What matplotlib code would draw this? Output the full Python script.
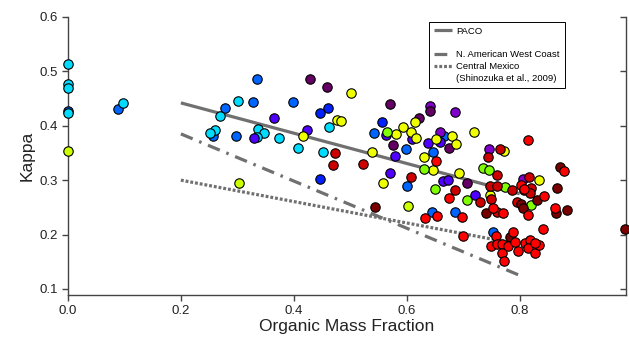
import matplotlib

matplotlib.use("Agg")
import matplotlib.pyplot as plt
from matplotlib.lines import Line2D

plt.rcParams["font.family"] = ["Liberation Sans", "DejaVu Sans"]

# colour codes used by the points
COLORS = {
    "C": "#00dcff", "B": "#0064ff", "DB": "#0020ff", "V": "#5000ff",
    "P": "#8200cc", "DP": "#640064", "Y": "#eeff00", "YG": "#ccff00",
    "L": "#80ff00", "R": "#ff0000", "DR": "#cc0000", "M": "#780000",
}

# organic mass fraction / kappa, grouped by point colour
blue_x = [0.0, 0.089, 0.334, 0.328, 0.398, 0.278, 0.257, 0.297, 0.542,
          0.599, 0.647, 0.666, 0.601, 0.645, 0.685, 0.753]
blue_y = [0.427, 0.431, 0.486, 0.443, 0.443, 0.433, 0.381, 0.382, 0.387,
          0.357, 0.352, 0.381, 0.290, 0.242, 0.241, 0.204]
cyan_x = [0.0, 0.0, 0.0, 0.0, 0.097, 0.301, 0.270, 0.337, 0.347, 0.334,
          0.260, 0.251, 0.374, 0.408, 0.451, 0.463]
cyan_y = [0.514, 0.477, 0.470, 0.423, 0.442, 0.446, 0.418, 0.394, 0.387,
          0.379, 0.392, 0.387, 0.378, 0.359, 0.351, 0.397]
dblue_x = [0.461, 0.446, 0.446, 0.556]
dblue_y = [0.432, 0.423, 0.303, 0.406]
violet_x = [0.365, 0.424, 0.329, 0.564, 0.610, 0.658, 0.637, 0.579, 0.570,
            0.664, 0.673, 0.720]
violet_y = [0.415, 0.392, 0.378, 0.383, 0.375, 0.371, 0.368, 0.344, 0.314,
            0.299, 0.300, 0.273]
purple_x = [0.642, 0.685, 0.658, 0.746, 0.806]
purple_y = [0.436, 0.426, 0.389, 0.357, 0.303]
dpurple_x = [0.428, 0.459, 0.570, 0.642, 0.622, 0.575, 0.675, 0.706]
dpurple_y = [0.486, 0.472, 0.440, 0.428, 0.414, 0.365, 0.359, 0.294]
yellow_x = [0.501, 0.477, 0.484, 0.416, 0.581, 0.594, 0.614, 0.608, 0.616,
            0.651, 0.681, 0.688, 0.539, 0.630, 0.647, 0.692, 0.558, 0.719,
            0.773, 0.747, 0.835]
yellow_y = [0.461, 0.411, 0.409, 0.381, 0.385, 0.398, 0.406, 0.389, 0.378,
            0.375, 0.381, 0.367, 0.352, 0.342, 0.319, 0.314, 0.294, 0.389,
            0.354, 0.273, 0.300]
ygreen_x = [0.0, 0.303, 0.603]
ygreen_y = [0.354, 0.295, 0.253]
lime_x = [0.565, 0.631, 0.650, 0.707, 0.735, 0.746, 0.774, 0.820]
lime_y = [0.389, 0.320, 0.284, 0.264, 0.322, 0.319, 0.287, 0.254]
dred_x = [0.473, 0.470, 0.523, 0.607, 0.685, 0.744, 0.766, 0.759, 0.816,
          0.820, 0.787, 0.748, 0.760, 0.729, 0.759, 0.808, 0.819, 0.795,
          0.750]
dred_y = [0.349, 0.327, 0.329, 0.306, 0.282, 0.343, 0.357, 0.310, 0.306,
          0.286, 0.282, 0.289, 0.289, 0.259, 0.242, 0.282, 0.276, 0.260,
          0.265]
red_x = [0.651, 0.675, 0.814, 0.878, 0.843, 0.802, 0.807, 0.815, 0.752,
         0.770, 0.863, 0.841, 0.633, 0.654, 0.697, 0.700, 0.758, 0.789,
         0.750, 0.759, 0.769, 0.768, 0.772, 0.779, 0.791, 0.797, 0.809,
         0.818, 0.815, 0.827, 0.835, 0.827]
red_y = [0.335, 0.268, 0.374, 0.316, 0.271, 0.291, 0.283, 0.236, 0.249,
         0.240, 0.249, 0.210, 0.231, 0.235, 0.232, 0.198, 0.198, 0.204,
         0.179, 0.183, 0.183, 0.167, 0.152, 0.179, 0.187, 0.169, 0.185,
         0.190, 0.175, 0.167, 0.181, 0.184]
maroon_x = [0.543, 0.740, 0.802, 0.806, 0.830, 0.866, 0.865, 0.883, 0.871,
            0.986, 0.782]
maroon_y = [0.250, 0.239, 0.257, 0.248, 0.264, 0.285, 0.239, 0.245, 0.325,
            0.210, 0.196]

groups = [
    (blue_x, blue_y, "B"), (cyan_x, cyan_y, "C"), (dblue_x, dblue_y, "DB"),
    (violet_x, violet_y, "V"), (purple_x, purple_y, "P"),
    (dpurple_x, dpurple_y, "DP"), (yellow_x, yellow_y, "Y"),
    (ygreen_x, ygreen_y, "YG"), (lime_x, lime_y, "L"),
    (dred_x, dred_y, "DR"), (maroon_x, maroon_y, "M"), (red_x, red_y, "R"),
]

# fit lines: x range and kappa at each end
fit_x = [0.2, 0.8]
paco_y = [0.442, 0.275]
westcoast_y = [0.385, 0.125]
mexico_y = [0.300, 0.182]

GRAY = "#707070"
AX = "#444444"

fig = plt.figure(figsize=(6.29, 3.45), dpi=100)
ax = fig.add_axes([0.108, 0.145, 0.887, 0.806])

ax.plot(fit_x, paco_y, color=GRAY, lw=2.3, solid_capstyle="butt",
        label="PACO", zorder=1)
ax.plot(fit_x, westcoast_y, color=GRAY, lw=2.3,
        dashes=(4, 2.2, 0.8, 2.2), label="N. American West Coast",
        zorder=1)
ax.plot(fit_x, mexico_y, color=GRAY, lw=2.3, dashes=(0.9, 0.6),
        label="Central Mexico", zorder=1)

for xs, ys, c in groups:
    ax.scatter(xs, ys, s=46, c=COLORS[c], edgecolors="black",
               linewidths=0.8, zorder=3, clip_on=False)

ax.set_xlim(0, 0.988)
ax.set_ylim(0.089, 0.6)
ax.set_xticks([0.0, 0.2, 0.4, 0.6, 0.8])
ax.set_yticks([0.1, 0.2, 0.3, 0.4, 0.5, 0.6])
ax.set_xticklabels(["0.0", "0.2", "0.4", "0.6", "0.8"])
ax.set_yticklabels(["0.1", "0.2", "0.3", "0.4", "0.5", "0.6"])
ax.tick_params(axis="both", direction="out", length=4, width=1,
               color=AX, labelsize=9.5, labelcolor="#222222", pad=3)
ax.tick_params(axis="y", right=True)

# right ticks inward, left outward
for t in ax.yaxis.get_major_ticks():
    t.tick2line.set_marker(matplotlib.markers.TICKLEFT)
    t.tick2line.set_markersize(4)

ax.spines["top"].set_visible(False)
for s in ("left", "bottom", "right"):
    ax.spines[s].set_color(AX)
    ax.spines[s].set_linewidth(1)

ax.set_xlabel("Organic Mass Fraction", fontsize=12.5, color="#222222",
              labelpad=2)
ax.set_ylabel("Kappa", fontsize=12.5, color="#222222", labelpad=4)

handles, labels = ax.get_legend_handles_labels()
blank = Line2D([], [], color="none")
handles = [handles[0], blank, handles[1], handles[2], blank]
labels = ["PACO", " ", "N. American West Coast", "Central Mexico",
          "(Shinozuka et al., 2009)"]
leg = ax.legend(handles, labels, loc="upper left",
                bbox_to_anchor=(0.647, 0.982), borderaxespad=0,
                fontsize=6.8, handlelength=1.9, handletextpad=0.5,
                labelspacing=0.3, borderpad=0.5, fancybox=False,
                framealpha=1, edgecolor="black")
leg.get_frame().set_linewidth(0.7)

fig.savefig("out.png", dpi=100)
